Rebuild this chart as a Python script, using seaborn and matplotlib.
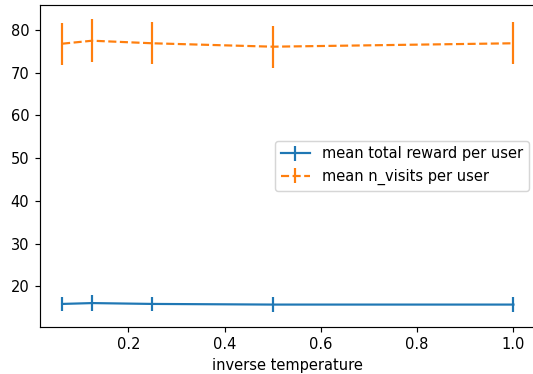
import matplotlib
matplotlib.use("Agg")
import matplotlib.pyplot as plt
from matplotlib.container import ErrorbarContainer
import seaborn as sns
import pandas as pd

# Inverse temperatures swept in the experiment
inv_temp = [0.0625, 0.125, 0.25, 0.5, 1.0]

# Mean total reward per user and its spread
reward_mean = [15.9, 16.1, 15.9, 15.75, 15.75]
reward_err = [1.7, 1.8, 1.7, 1.75, 1.75]

# Mean number of visits per user and its spread
visits_mean = [76.8, 77.5, 76.9, 76.1, 76.9]
visits_err = [4.9, 5.0, 4.9, 4.9, 4.9]

label_reward = "mean total reward per user"
label_visits = "mean n_visits per user"

palette = sns.color_palette("tab10")

df = pd.DataFrame({
    "inverse temperature": inv_temp * 2,
    "value": reward_mean + visits_mean,
    "series": [label_reward] * len(inv_temp) + [label_visits] * len(inv_temp),
})

DPI = 105
fig = plt.figure(figsize=(533 / DPI, 374 / DPI), dpi=DPI)
ax = fig.add_axes([39.5 / 533, 0.1265, 496.5 / 533, 0.8609])

sns.lineplot(data=df, x="inverse temperature", y="value", hue="series",
             style="series", palette=palette[:2],
             dashes={label_reward: "", label_visits: (3.7, 1.6)},
             linewidth=1.5, legend=False, ax=ax)
lines = ax.get_lines()

handles = []
for i, (m, e, lab) in enumerate([(reward_mean, reward_err, label_reward),
                                  (visits_mean, visits_err, label_visits)]):
    eb = ax.errorbar(inv_temp, m, yerr=e, fmt="none", ecolor=palette[i],
                     elinewidth=1.5, capsize=0)
    handles.append(ErrorbarContainer((lines[i], eb.lines[1], eb.lines[2]),
                                     has_xerr=False, has_yerr=True, label=lab))

ax.set_xlabel("inverse temperature")
ax.set_ylabel("")
ax.set_xticks([0.2, 0.4, 0.6, 0.8, 1.0])
ax.set_yticks([20, 30, 40, 50, 60, 70, 80])
ax.margins(x=0.05, y=0.05)
ax.legend(handles=handles, labels=[label_reward, label_visits],
          loc="center right")

fig.savefig("out.png", dpi=DPI)
